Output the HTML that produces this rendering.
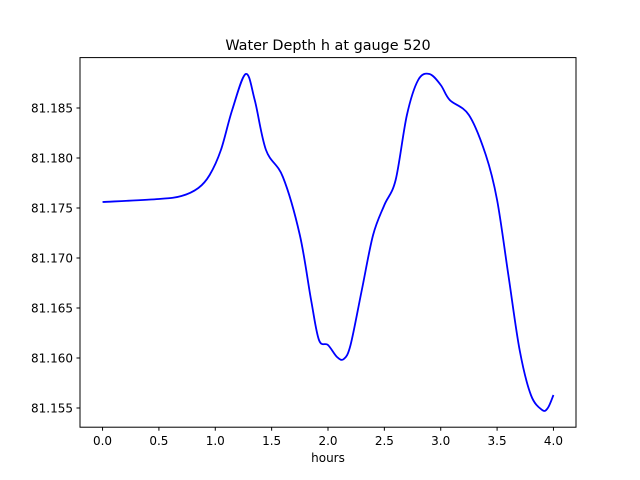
<!DOCTYPE html>
<html><head><meta charset="utf-8"><style>
body{margin:0;background:#fff;}
svg{display:block;font-family:"DejaVu Sans","Liberation Sans",sans-serif;}
</style></head><body>
<svg id="chart" width="640" height="480">
<rect width="640" height="480" fill="#fff"/>
<text x="328" y="50" text-anchor="middle" font-size="14.4">Water Depth h at gauge 520</text>
<g id="ticks"></g>
<path id="line" fill="none" stroke="#0000ff" stroke-width="1.8"/>
<rect x="80" y="57.6" width="496" height="369.6" fill="none" stroke="#000" stroke-width="1"/>
<text x="328" y="462" text-anchor="middle" font-size="12">hours</text>
</svg>
<script>
const hours=[0,0.5,0.7,0.85,0.95,1.05,1.15,1.27,1.35,1.45,1.6,1.75,1.85,1.92,2.0,2.08,2.14,2.2,2.3,2.4,2.5,2.6,2.7,2.8,2.9,3.0,3.08,3.25,3.4,3.5,3.6,3.7,3.8,3.9,3.95,4.0];
const depth=[81.1756,81.1759,81.1762,81.1770,81.1783,81.1808,81.1848,81.1884,81.1858,81.1808,81.1781,81.1723,81.1658,81.1618,81.1613,81.1601,81.1599,81.1613,81.1668,81.1723,81.1753,81.1778,81.1843,81.1878,81.1884,81.1873,81.1858,81.1843,81.1803,81.1758,81.1683,81.1608,81.1563,81.1548,81.1550,81.1563];
const xTicks=[0,0.5,1,1.5,2,2.5,3,3.5,4];
const xTickLabels=["0.0","0.5","1.0","1.5","2.0","2.5","3.0","3.5","4.0"];
const yTicks=[81.155,81.16,81.165,81.17,81.175,81.18,81.185];
const yTickLabels=["81.155","81.160","81.165","81.170","81.175","81.180","81.185"];
const X=v=>80+(v+0.2)/4.4*496;
const Y=v=>427.2-(v-81.15308)/(81.19004-81.15308)*369.6;
const NS="http://www.w3.org/2000/svg";
const g=document.getElementById('ticks');
function mk(t,a){const e=document.createElementNS(NS,t);for(const k in a)e.setAttribute(k,a[k]);g.appendChild(e);return e;}
xTicks.forEach((v,i)=>{
  const l=mk('line',{x1:X(v),x2:X(v),y1:427.2,y2:430.7,stroke:'#000'});
  
  
  const t=mk('text',{x:X(v),y:445,'text-anchor':'middle','font-size':12});
  t.textContent=xTickLabels[i];
  
  
});
yTicks.forEach((v,i)=>{
  const l=mk('line',{x1:76.5,x2:80,y1:Y(v),y2:Y(v),stroke:'#000'});
  
  
  const t=mk('text',{x:73,y:Y(v)+4.5,'text-anchor':'end','font-size':12});
  t.textContent=yTickLabels[i];
  
  
});
const p=hours.map((h,i)=>[X(h),Y(depth[i])]);
let d=`M${p[0][0]},${p[0][1]}`;
for(let i=0;i<p.length-1;i++){
  const p0=p[Math.max(0,i-1)],p1=p[i],p2=p[i+1],p3=p[Math.min(p.length-1,i+2)];
  const c1=[p1[0]+(p2[0]-p0[0])/6,p1[1]+(p2[1]-p0[1])/6];
  const c2=[p2[0]-(p3[0]-p1[0])/6,p2[1]-(p3[1]-p1[1])/6];
  d+=` C${c1[0]},${c1[1]} ${c2[0]},${c2[1]} ${p2[0]},${p2[1]}`;
}
document.getElementById('line').setAttribute('d',d);
</script>
</body></html>
